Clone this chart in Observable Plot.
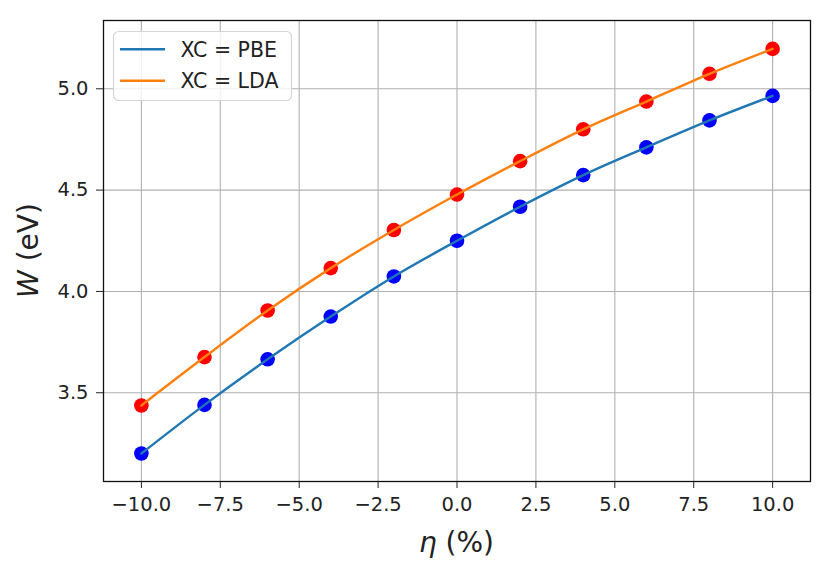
<!DOCTYPE html>
<html>
<head>
<meta charset="utf-8">
<script src="https://cdn.jsdelivr.net/npm/d3@7"></script>
<script src="https://cdn.jsdelivr.net/npm/@observablehq/plot@0.6"></script>
<style>
  html, body { margin: 0; padding: 0; background: #fff; }
  #chart { width: 830px; height: 571px; }
  svg { font-family: "DejaVu Sans", sans-serif; }
</style>
</head>
<body>
<div id="chart"></div>
<script>
// strain η (%)
const eta = [-10, -8, -6, -4, -2, 0, 2, 4, 6, 8, 10];
// work function W (eV)
const wPBE = [3.20, 3.44, 3.665, 3.876, 4.074, 4.25, 4.418, 4.574, 4.711, 4.844, 4.965];
const wLDA = [3.437, 3.676, 3.906, 4.115, 4.303, 4.478, 4.643, 4.80, 4.937, 5.074, 5.197];
const seriesNames = ["XC = PBE", "XC = LDA"];
const xTicks = [-10, -7.5, -5, -2.5, 0, 2.5, 5, 7.5, 10];
const yTicks = [3.5, 4.0, 4.5, 5.0];

const pbe = eta.map((e, i) => ({eta: e, w: wPBE[i]}));
const lda = eta.map((e, i) => ({eta: e, w: wLDA[i]}));

const fmt = d => d.toFixed(1).replace("-", "\u2212");
const grid = {stroke: "#b0b0b0", strokeOpacity: 1, strokeWidth: 1.1};

const fig = Plot.plot({
  width: 830,
  height: 571,
  marginLeft: 103,
  marginRight: 20,
  marginTop: 20,
  marginBottom: 90,
  style: {fontFamily: "DejaVu Sans", background: "white"},
  x: {domain: [-11.2, 11.2]},
  y: {domain: [3.062, 5.337]},
  marks: [
    Plot.gridX(xTicks, grid),
    Plot.gridY(yTicks, grid),
    Plot.dot(pbe, {x: "eta", y: "w", r: 7.3, fill: "#0000ff", stroke: "none"}),
    Plot.dot(lda, {x: "eta", y: "w", r: 7.3, fill: "#ff0000", stroke: "none"}),
    Plot.line(pbe, {x: "eta", y: "w", curve: "catmull-rom", stroke: "#1f77b4", strokeWidth: 2.4}),
    Plot.line(lda, {x: "eta", y: "w", curve: "catmull-rom", stroke: "#ff7f0e", strokeWidth: 2.4}),
    Plot.frame({stroke: "#111", strokeWidth: 1.3}),
    Plot.axisX(xTicks, {tickSize: 7, tickPadding: 9, fontSize: 19.5, tickFormat: fmt, label: null, stroke: "#222", fill: "#222"}),
    Plot.axisY(yTicks, {tickSize: 7, tickPadding: 8, fontSize: 19.5, tickFormat: fmt, label: null, stroke: "#222", fill: "#222"})
  ]
});

document.getElementById("chart").appendChild(fig);

const svg = d3.select(fig);

// axis labels with math-italic symbols
const xl = svg.append("text")
  .attr("x", 456.5).attr("y", 552)
  .attr("text-anchor", "middle")
  .attr("font-size", 28)
  .attr("fill", "#222");
xl.append("tspan").attr("font-style", "italic").text("η");
xl.append("tspan").text(" (%)");

const yl = svg.append("text")
  .attr("transform", "translate(37.5,250.5) rotate(-90)")
  .attr("text-anchor", "middle")
  .attr("font-size", 28)
  .attr("fill", "#222");
yl.append("tspan").attr("font-style", "italic").text("W");
yl.append("tspan").text(" (eV)");

// legend
const lg = svg.append("g");
lg.append("rect")
  .attr("x", 113.5).attr("y", 31.5).attr("width", 178).attr("height", 69)
  .attr("rx", 5).attr("fill", "white").attr("fill-opacity", 0.8)
  .attr("stroke", "#d6d6d6").attr("stroke-width", 1.2);
const colors = ["#1f77b4", "#ff7f0e"];
const rows = [49.3, 80.7];
seriesNames.forEach((name, i) => {
  lg.append("line")
    .attr("x1", 120).attr("x2", 165).attr("y1", rows[i]).attr("y2", rows[i])
    .attr("stroke", colors[i]).attr("stroke-width", 2.4);
  lg.append("text")
    .attr("x", 180.5).attr("y", rows[i]).attr("dy", "0.36em")
    .attr("text-anchor", "start")
    .attr("font-size", 20.5).attr("fill", "#222")
    .text(name);
});
</script>
</body>
</html>
